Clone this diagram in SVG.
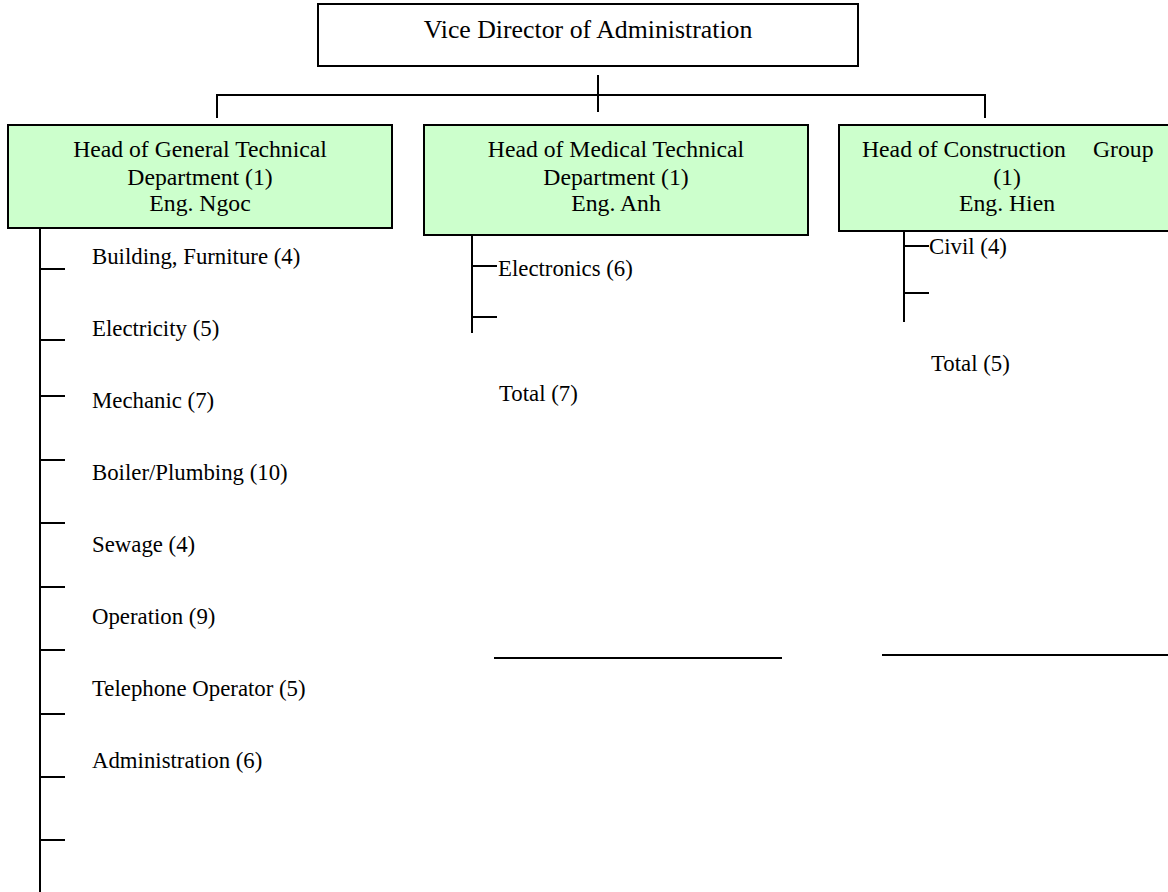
<svg xmlns="http://www.w3.org/2000/svg" width="1168" height="892" viewBox="0 0 1168 892">
<style>
text{font-family:"Liberation Serif","Times New Roman",serif;fill:#000;font-size:23.7px}
.c{text-anchor:middle}
.title{font-size:25.8px}
.it{font-size:22.8px}
.box{fill:#ccffcc;stroke:#000;stroke-width:2}
.wbox{fill:#fff;stroke:#000;stroke-width:2}
.ln{stroke:#000;stroke-width:2;fill:none}
</style>
<rect width="1168" height="892" fill="#fff"/>
<g id="connectors">
<path class="ln" d="M598 75V112M217 95H985M217 94V118M985 94V118"/>
<path class="ln" d="M40 228V892M40 269H65M40 340H65M40 396H65M40 460H65M40 523H65M40 587H65M40 650H65M40 714H65M40 777H65M40 840H65"/>
<path class="ln" d="M472 235V333M472 266H497M472 317H497"/>
<path class="ln" d="M904 231V322M904 246H929M904 293H929"/>
<path class="ln" d="M494 658H782M882 655H1168"/>
</g>
<g id="vice-director">
<rect class="wbox" x="318" y="4" width="540" height="62"/>
<text class="c title" x="588" y="38">Vice Director of Administration</text>
</g>
<g id="general-technical">
<rect class="box" x="8" y="125" width="384" height="103"/>
<text class="c" x="200" y="157">Head of General Technical</text>
<text class="c" x="200" y="185">Department (1)</text>
<text class="c" x="200" y="211">Eng. Ngoc</text>
</g>
<g id="medical-technical">
<rect class="box" x="424" y="125" width="384" height="110"/>
<text class="c" x="616" y="157">Head of Medical Technical</text>
<text class="c" x="616" y="185">Department (1)</text>
<text class="c" x="616" y="211">Eng. Anh</text>
</g>
<g id="construction">
<rect class="box" x="839" y="125" width="340" height="106"/>
<text x="862" y="157">Head of Construction</text>
<text x="1093" y="157">Group</text>
<text class="c" x="1007" y="185">(1)</text>
<text class="c" x="1007" y="211">Eng. Hien</text>
</g>
<g id="general-items">
<text class="it" x="92" y="264">Building, Furniture (4)</text>
<text class="it" x="92" y="336">Electricity (5)</text>
<text class="it" x="92" y="408">Mechanic (7)</text>
<text class="it" x="92" y="480">Boiler/Plumbing (10)</text>
<text class="it" x="92" y="552">Sewage (4)</text>
<text class="it" x="92" y="624">Operation (9)</text>
<text class="it" x="92" y="696">Telephone Operator (5)</text>
<text class="it" x="92" y="768">Administration (6)</text>
</g>
<g id="medical-items">
<text class="it" x="498" y="276">Electronics (6)</text>
<text class="it" x="499" y="401">Total (7)</text>
</g>
<g id="construction-items">
<text class="it" x="929" y="254">Civil (4)</text>
<text class="it" x="931" y="371">Total (5)</text>
</g>
</svg>
